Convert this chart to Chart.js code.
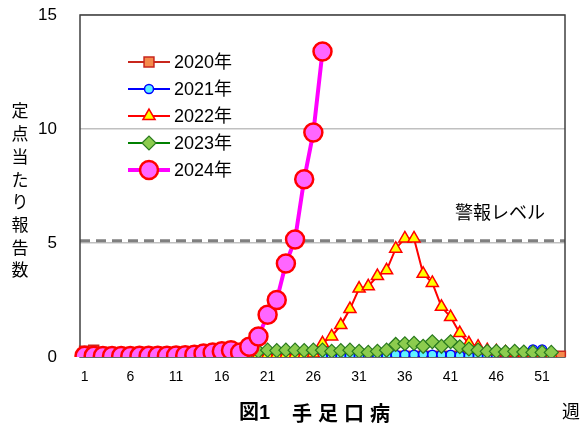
<!DOCTYPE html>
<html>
<head>
<meta charset="utf-8">
<script src="https://cdn.jsdelivr.net/npm/chart.js@4.4.1/dist/chart.umd.min.js"></script>
<style>
  html, body { margin: 0; padding: 0; background: #fff; }
  canvas { display: block; }
</style>
</head>
<body>
<canvas id="chart-hfmd" width="587" height="425"></canvas>
<script>
// === Données : 手足口病 定点当たり報告数 (週別) ===
const weeks = [];
for (let w = 1; w <= 53; w++) weeks.push(String(w));

const y2020 = [0.25, 0.3, 0.2, 0.15, 0.12, 0.1, 0.08, 0.06, 0.05, 0.05,
               0.04, 0.03, 0.03, 0.03, 0.02, 0.02, 0.02, 0.02, 0.02, 0.02,
               0.02, 0.02, 0.02, 0.02, 0.02, 0.02, 0.02, 0.02, 0.02, 0.02,
               0.02, 0.02, 0.02, 0.02, 0.02, 0.02, 0.02, 0.02, 0.02, 0.02,
               0.02, 0.02, 0.02, 0.02, 0.03, 0.03, 0.03, 0.03, 0.03, 0.03,
               0.03, 0.03, 0.03];
const y2021 = [0.05, 0.05, 0.04, 0.04, 0.04, 0.03, 0.03, 0.03, 0.03, 0.03,
               0.03, 0.03, 0.03, 0.03, 0.03, 0.03, 0.03, 0.03, 0.03, 0.03,
               0.04, 0.04, 0.04, 0.04, 0.04, 0.05, 0.05, 0.05, 0.05, 0.05,
               0.05, 0.05, 0.06, 0.07, 0.1, 0.1, 0.1, 0.12, 0.1, 0.1,
               0.1, 0.07, 0.06, 0.05, 0.05, 0.05, 0.06, 0.1, 0.2, 0.33,
               0.33, 0.15];
const y2022 = [0.05, 0.05, 0.05, 0.04, 0.04, 0.04, 0.04, 0.04, 0.04, 0.04,
               0.04, 0.04, 0.04, 0.05, 0.05, 0.05, 0.05, 0.06, 0.08, 0.1,
               0.1, 0.1, 0.1, 0.1, 0.12, 0.15, 0.6, 0.9, 1.4, 2.1,
               3.0, 3.1, 3.55, 3.8, 4.75, 5.2, 5.2, 3.65, 3.25, 2.2,
               1.75, 1.05, 0.6, 0.45, 0.3, 0.25, 0.2, 0.2, 0.15, 0.15,
               0.15, 0.1];
const y2023 = [0.1, 0.1, 0.1, 0.1, 0.1, 0.1, 0.1, 0.1, 0.1, 0.1,
               0.1, 0.1, 0.1, 0.1, 0.1, 0.1, 0.12, 0.15, 0.22, 0.25,
               0.3, 0.28, 0.3, 0.3, 0.28, 0.3, 0.3, 0.25, 0.28, 0.3,
               0.25, 0.2, 0.25, 0.3, 0.55, 0.58, 0.6, 0.47, 0.67, 0.47,
               0.67, 0.45, 0.35, 0.3, 0.25, 0.25, 0.22, 0.25, 0.22, 0.2,
               0.2, 0.2];
const y2024 = [0.05, 0.05, 0.04, 0.04, 0.04, 0.04, 0.05, 0.05, 0.06, 0.06,
               0.07, 0.08, 0.1, 0.15, 0.2, 0.25, 0.3, 0.2, 0.45, 0.9,
               1.85, 2.5, 4.1, 5.15, 7.8, 9.85, 13.4];

const alertLevel = 5.1;
const yTicks = [0, 5, 10, 15];

const JP = '"Liberation Sans", "Noto Sans CJK JP", sans-serif';

// === Séries ===
const series = [
    { label: '2020年', data: y2020, line: '#c8261c', fill: '#f58a4b', edge: '#c8261c', style: 'rect', r: 7, lw: 2, bw: 1.5 },
    { label: '2021年', data: y2021, line: '#0000ff', fill: '#5ff2ff', edge: '#0000ff', style: 'circle', r: 4.5, lw: 2, bw: 1.5 },
    { label: '2022年', data: y2022, line: '#ff0000', fill: '#ffff00', edge: '#ff0000', style: 'triangle', r: 7, lw: 2, bw: 1.5 },
    { label: '2023年', data: y2023, line: '#008000', fill: '#8ccc4e', edge: '#2a7a1f', style: 'rectRot', r: 7, lw: 2, bw: 1.2 },
    { label: '2024年', data: y2024, line: '#ff00ff', fill: '#ff66ff', edge: '#ff0000', style: 'circle', r: 9, lw: 4, bw: 2.5 }
];

// === Décor : cadre, ligne d'alerte, légende, textes ===
const decor = {
    id: 'decor',
    beforeDraw(chart) {
        const ctx = chart.ctx;
        ctx.save();
        ctx.fillStyle = '#fff';
        ctx.fillRect(0, 0, chart.width, chart.height);
        ctx.restore();
    },
    beforeDatasetsDraw(chart) {
        const { ctx, chartArea: a, scales } = chart;
        ctx.save();
        // ligne 警報レベル
        const ya = scales.y.getPixelForValue(alertLevel);
        ctx.strokeStyle = '#808080';
        ctx.lineWidth = 3;
        ctx.setLineDash([10, 6]);
        ctx.beginPath();
        ctx.moveTo(a.left, ya);
        ctx.lineTo(a.right, ya);
        ctx.stroke();
        ctx.setLineDash([]);
        // cadre
        ctx.strokeStyle = '#404040';
        ctx.lineWidth = 1.5;
        ctx.strokeRect(a.left, a.top, a.right - a.left, a.bottom - a.top);
        ctx.restore();
    },
    afterDraw(chart) {
        const ctx = chart.ctx;
        ctx.save();
        ctx.fillStyle = '#000';
        ctx.textBaseline = 'middle';

        // légende
        series.forEach((s, i) => {
            const y = 62 + i * 27;
            ctx.strokeStyle = s.line;
            ctx.lineWidth = s.lw;
            ctx.beginPath();
            ctx.moveTo(128, y);
            ctx.lineTo(170, y);
            ctx.stroke();
            ctx.fillStyle = s.fill;
            ctx.strokeStyle = s.edge;
            ctx.lineWidth = s.bw;
            Chart.helpers.drawPoint(ctx, { pointStyle: s.style, radius: s.r, borderWidth: s.bw, rotation: 0 }, 149, y);
            ctx.fillStyle = '#000';
            ctx.font = '18px ' + JP;
            ctx.textAlign = 'left';
            ctx.fillText(s.label, 174, y + 1);
        });

        // titre de l'axe Y (vertical)
        ctx.font = '17px "Noto Sans CJK JP", sans-serif';
        ctx.textAlign = 'center';
        '定点当たり報告数'.split('').forEach((c, i) => {
            ctx.fillText(c, 20, 111 + i * 22.7);
        });

        // 警報レベル
        ctx.font = '18px "Noto Sans CJK JP", sans-serif';
        ctx.textAlign = 'left';
        ctx.fillText('警報レベル', 455, 212);

        // titre du graphique
        ctx.font = 'bold 20px ' + JP;
        ctx.fillText('図1', 239, 413);
        ctx.letterSpacing = '6px';
        ctx.font = 'bold 20px "Noto Sans CJK JP", sans-serif';
        ctx.fillText('手足口病', 292, 413);
        ctx.letterSpacing = '0px';

        // 週
        ctx.font = '18px "Noto Sans CJK JP", sans-serif';
        ctx.fillText('週', 562, 411);
        ctx.restore();
    }
};

const ctx = document.getElementById('chart-hfmd');
new Chart(ctx, {
    type: 'line',
    data: {
        labels: weeks,
        datasets: series.map((s, i) => ({
            label: s.label,
            data: s.data,
            borderColor: s.line,
            borderWidth: s.lw,
            pointStyle: s.style,
            pointRadius: s.r,
            pointBackgroundColor: s.fill,
            pointBorderColor: s.edge,
            pointBorderWidth: s.bw,
            tension: 0,
            fill: false,
            order: series.length - i
        }))
    },
    options: {
        responsive: false,
        animation: false,
        layout: { padding: { top: 15, right: 22, bottom: 0, left: 0 } },
        plugins: {
            legend: { display: false },
            tooltip: { enabled: false }
        },
        scales: {
            x: {
                offset: true,
                grid: { display: false, drawTicks: false },
                border: { display: false },
                ticks: {
                    autoSkip: false,
                    maxRotation: 0,
                    padding: 12,
                    color: '#000',
                    font: { size: 14, family: JP },
                    callback: (v, i) => (i % 5 === 0 ? weeks[i] : '')
                },
                afterFit: (s) => { s.height = 68; s.paddingLeft = 0; s.paddingRight = 0; }
            },
            y: {
                min: 0,
                max: 15,
                afterBuildTicks: (s) => { s.ticks = yTicks.map(v => ({ value: v })); },
                grid: { color: '#c0c0c0', lineWidth: 1.5, drawTicks: false },
                border: { display: false },
                ticks: {
                    padding: 23,
                    color: '#000',
                    font: { size: 17, family: JP }
                },
                afterFit: (s) => { s.width = 80; s.paddingTop = 0; s.paddingBottom = 0; }
            }
        }
    },
    plugins: [decor]
});
</script>
</body>
</html>
